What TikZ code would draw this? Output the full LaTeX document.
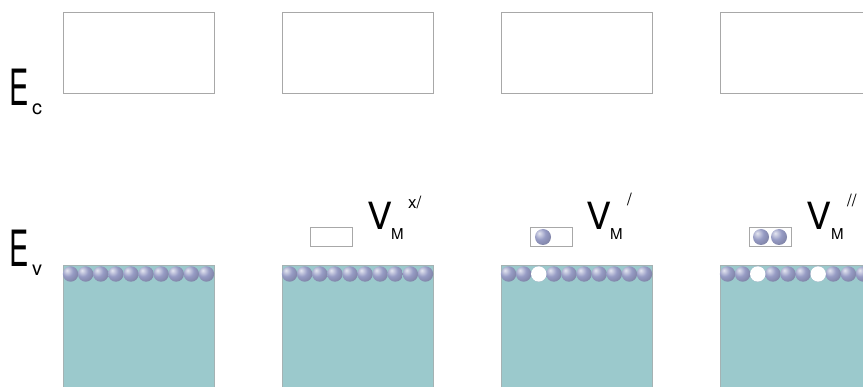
\documentclass[tikz,border=0pt]{standalone}
\usepackage{fontspec}
\setmainfont{TeX Gyre Heros}

\definecolor{bandteal}{RGB}{155,201,204}
\definecolor{ballgray}{RGB}{150,155,196}
\definecolor{boxgray}{RGB}{168,168,168}

\pgfdeclareradialshading{electronball}{\pgfpoint{-12bp}{12bp}}{%
  color(0bp)=(ballgray!25!white); color(18bp)=(ballgray);
  color(42bp)=(ballgray!78!black); color(62bp)=(ballgray!68!black);
  color(100bp)=(ballgray!68!black)}

\tikzset{
  cband/.style={draw=boxgray, line width=0.9pt},
  vband/.style={draw=boxgray!70!bandteal, fill=bandteal, line width=0.6pt},
  acceptor/.style={draw=boxgray, line width=0.8pt},
  electron/.style={shading=electronball},
  hole/.style={fill=white},
  lvl/.style={inner sep=0pt, anchor=base west, font=\fontsize{50}{50}\selectfont},
  lvlsub/.style={inner sep=0pt, anchor=base west, font=\fontsize{20}{20}\selectfont},
  vac/.style={inner sep=0pt, anchor=base west, font=\fontsize{37.5}{37.5}\selectfont},
  vacsub/.style={inner sep=0pt, anchor=base west, font=\fontsize{15}{15}\selectfont},
  vacsup/.style={inner sep=0pt, anchor=base west, font=\fontsize{17}{17}\selectfont},
}

\begin{document}
\begin{tikzpicture}[x=1pt, y=-1pt]
  \useasboundingbox (0,0) rectangle (863,387);
  \clip (0,0) rectangle (863,387);
  % band levels
  \node[lvl] (Ec) at (9,106) {\scalebox{0.58}[1]{E}};
  \node[lvlsub] (Ecsub) at (32,115) {c};
  \node[lvl] (Ev) at (9,267) {\scalebox{0.58}[1]{E}};
  \node[lvlsub] (Evsub) at (32,276) {v};
  % conduction and valence bands, valence band full of electrons
  \foreach \px in {63,282,501,720} {
    \draw[cband] (\px,12) rectangle ++(151,81);
    \draw[vband] (\px,265) rectangle ++(151,130);
    \foreach \k in {0,...,9}
      \shade[electron] ({\px+7.55+15.1*\k},274) circle (7.7pt);
  }
  % holes left behind
  \fill[hole] ({501+7.55+15.1*2},274) circle (7.7pt);
  \fill[hole] ({720+7.55+15.1*2},274) circle (7.7pt);
  \fill[hole] ({720+7.55+15.1*6},274) circle (7.7pt);
  % vacancy acceptor levels
  \foreach \px in {310,530,749}
    \draw[acceptor] (\px,227) rectangle ++(42,19);
  \shade[electron] (543,237) circle (8pt);
  \shade[electron] (761,237) circle (8pt);
  \shade[electron] (779,237) circle (8pt);
  % charge states of the vacancy
  \node[vac] (V1) at (367,230) {V};
  \node[vacsub] (M1) at (391,240) {M};
  \node[vacsup] (q1) at (408,209) {x/};
  \node[vac] (V2) at (586,230) {V};
  \node[vacsub] (M2) at (610,240) {M};
  \node[vacsup] (q2) at (627,206) {/};
  \node[vac] (V3) at (806,230) {V};
  \node[vacsub] (M3) at (831,240) {M};
  \node[vacsup] (q3) at (847,207) {//};
\end{tikzpicture}
\end{document}
